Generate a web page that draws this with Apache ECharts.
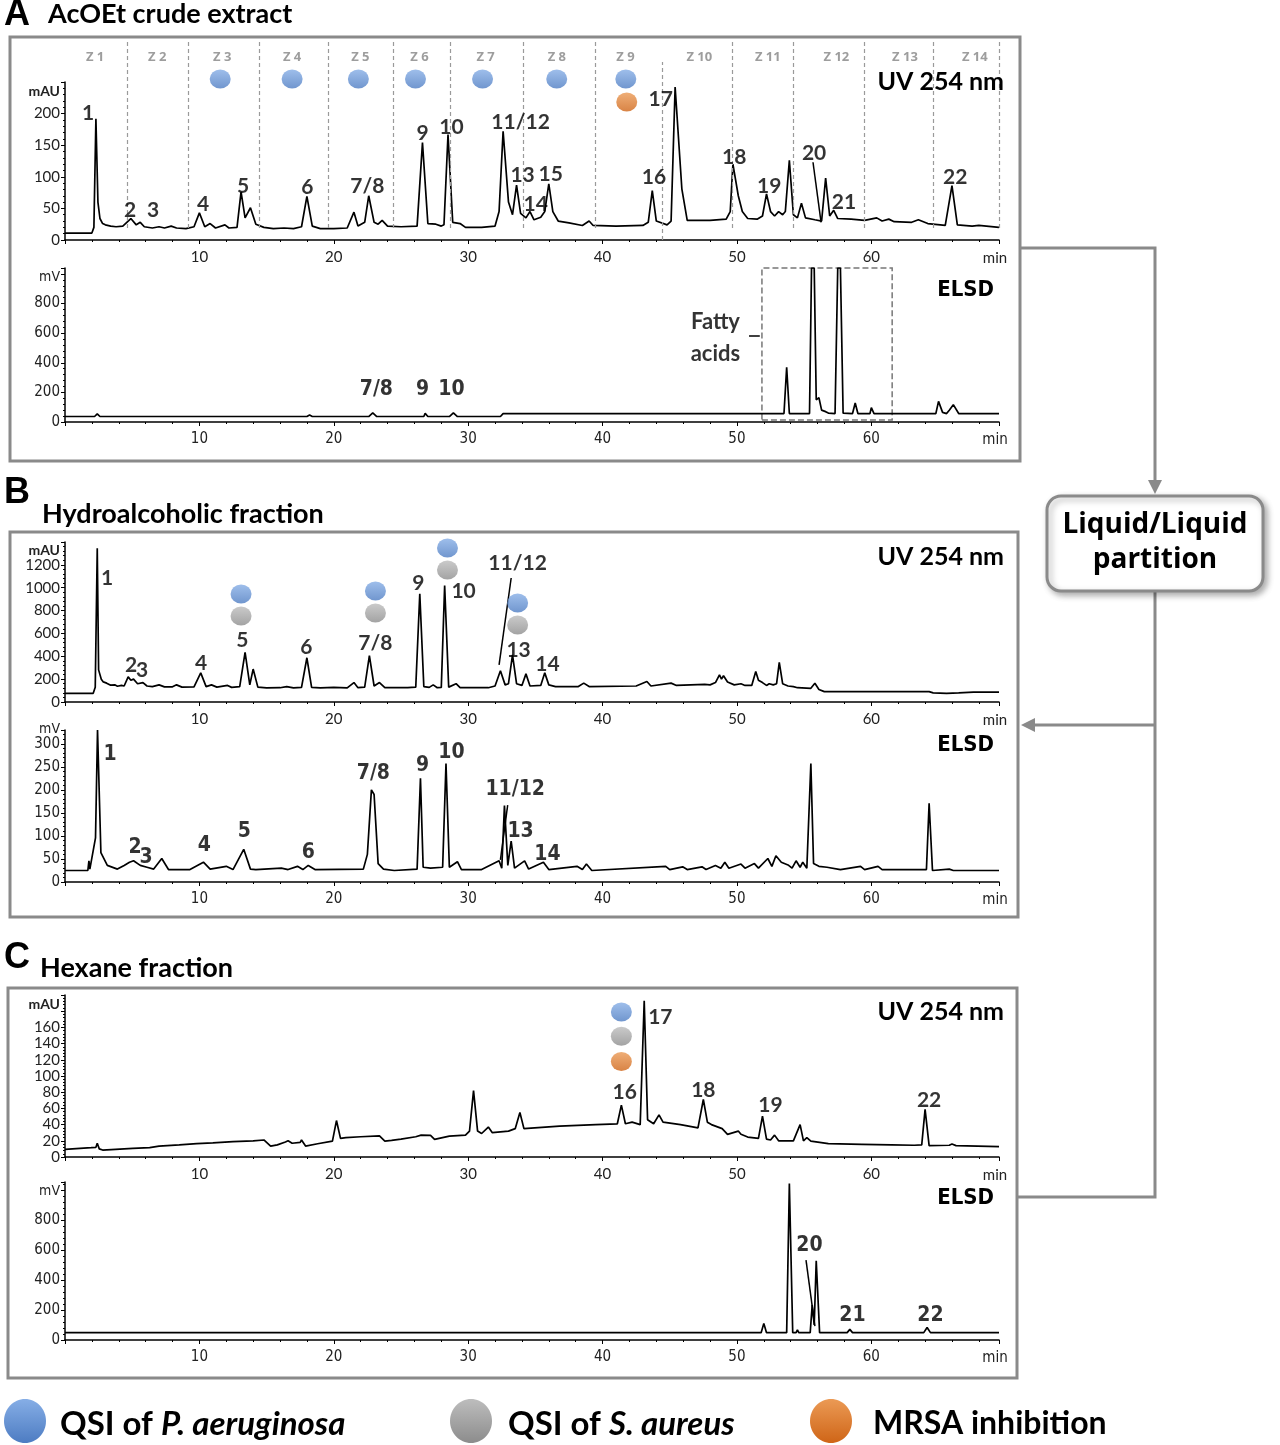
<!DOCTYPE html>
<html><head><meta charset="utf-8">
<script src="https://cdn.jsdelivr.net/npm/echarts@6/dist/echarts.min.js"></script>
<style>html,body{margin:0;padding:0;background:#fff}#c{width:1280px;height:1445px}</style>
</head><body><div id="c"></div><script>
// ---------- DATA (time in min, intensity in mAU / mV) ----------
const uvA = [[0,11],[2.0,11],[2.15,20],[2.3,192],[2.45,60],[2.6,34],[2.8,26],[3.0,24],[3.4,22],[3.8,21],[4.3,22],[4.9,34],[5.3,24],[5.6,28],[5.9,21],[6.5,19],[7.0,21],[7.4,19],[7.9,22],[8.3,19],[9.0,18],[9.6,21],[10.0,43],[10.4,21],[10.8,26],[11.2,19],[11.9,24],[12.2,19],[12.8,20],[13.1,76],[13.4,35],[13.8,51],[14.2,25],[14.8,20],[15.5,18],[16.3,19],[17.0,18],[17.6,21],[18.0,69],[18.4,22],[19.0,18],[20.0,18],[21.0,19],[21.5,44],[21.8,22],[22.3,28],[22.6,70],[23.0,28],[23.3,25],[23.6,31],[24.0,22],[25.0,21],[26.2,22],[26.6,154],[27.0,26],[27.6,25],[28.0,22],[28.2,24],[28.5,167],[28.85,28],[29.4,26],[29.8,20],[31.0,20],[32.0,22],[32.3,45],[32.6,172],[33.0,60],[33.3,40],[33.6,87],[33.9,42],[34.3,35],[34.6,45],[34.9,32],[35.4,36],[35.7,45],[36.0,89],[36.3,45],[36.7,30],[37.5,27],[38.5,23],[39.0,30],[39.3,23],[41.0,22],[43.0,23],[43.4,28],[43.7,78],[44.0,30],[44.8,24],[45.1,30],[45.4,242],[45.9,81],[46.3,31],[47.0,31],[48.0,31],[49.2,33],[49.5,45],[49.7,120],[50.1,70],[50.4,45],[50.8,34],[51.5,33],[51.9,38],[52.2,73],[52.5,45],[52.8,38],[53.1,45],[53.4,40],[53.6,45],[53.9,126],[54.2,40],[54.5,35],[54.8,58],[55.1,35],[55.8,32],[56.3,30],[56.6,98],[56.9,38],[57.2,47],[57.5,34],[58.5,33],[59.5,31],[60.4,35],[60.8,30],[61.3,33],[61.7,29],[63.0,28],[63.5,32],[64.2,26],[65.5,23],[66.0,86],[66.4,24],[67.5,22],[68.0,23],[69.5,20]];
const elsdA = [[0,37],[2.2,37],[2.4,55],[2.6,37],[2.9,37],[3.0,50],[3.2,37],[4.9,37],[5.0,47],[5.2,37],[7.1,37],[7.2,47],[7.4,37],[10.1,37],[10.2,47],[10.4,37],[13.3,37],[13.4,47],[13.6,37],[15.4,37],[15.5,43],[15.6,37],[18.0,37],[18.2,47],[18.4,37],[22.6,37],[22.9,62],[23.2,37],[23.8,37],[23.9,45],[24.0,37],[26.7,37],[26.8,58],[27.0,37],[28.6,37],[28.9,62],[29.2,37],[29.8,37],[29.9,45],[30.0,37],[32.4,37],[32.6,57],[37.2,57],[37.3,48],[37.4,57],[40.1,57],[40.2,48],[40.4,57],[49.7,57],[49.8,70],[49.9,57],[53.5,57],[53.7,370],[53.9,57],[54.8,57],[54.9,70],[55.0,57],[55.4,57],[55.55,1040],[55.75,1040],[55.9,150],[56.1,165],[56.3,80],[56.6,70],[56.8,60],[57.3,57],[57.5,1040],[57.7,1040],[57.9,60],[58.6,57],[58.8,128],[59.0,57],[59.9,57],[60.0,97],[60.2,57],[64.8,57],[65.0,139],[65.3,65],[65.6,57],[65.8,80],[66.1,117],[66.5,57],[69.5,57]];
const uvB = [[0,76],[2.1,76],[2.25,130],[2.4,1345],[2.5,281],[2.7,200],[2.85,176],[3.1,165],[3.4,147],[3.7,150],[3.9,138],[4.2,145],[4.4,140],[4.7,220],[4.9,190],[5.1,200],[5.4,160],[5.8,170],[6.1,140],[6.5,135],[7.0,150],[7.4,132],[8.0,133],[8.3,150],[8.7,130],[9.6,132],[10.1,255],[10.5,135],[10.9,150],[11.3,130],[12.1,145],[12.4,128],[13.0,135],[13.4,434],[13.75,150],[14.0,288],[14.35,130],[15.0,123],[16.0,125],[16.5,135],[17.0,123],[17.6,128],[18.0,387],[18.35,128],[19.0,123],[20.0,128],[21.0,123],[21.5,170],[21.8,125],[22.3,130],[22.65,405],[23.0,140],[23.4,170],[23.8,125],[25.5,125],[26.1,130],[26.4,947],[26.7,135],[27.1,128],[27.4,150],[27.7,125],[28.0,128],[28.25,1020],[28.55,130],[29.1,160],[29.4,125],[31.5,125],[32.0,140],[32.4,273],[32.75,150],[33.0,160],[33.3,413],[33.6,160],[34.0,145],[34.3,246],[34.6,140],[35.4,145],[35.7,255],[36.0,150],[36.5,135],[38.2,135],[38.6,165],[39.0,135],[42.5,140],[43.3,179],[43.6,140],[45.1,165],[45.5,145],[47.6,155],[48.0,150],[48.4,170],[48.7,237],[48.85,200],[49.0,230],[49.3,175],[49.8,150],[50.3,160],[50.6,145],[51.1,145],[51.4,267],[51.6,190],[51.9,170],[52.2,145],[52.4,160],[52.7,150],[52.95,160],[53.15,346],[53.4,160],[53.8,140],[54.2,135],[54.5,125],[55.5,120],[55.8,164],[56.1,110],[56.5,91],[64.3,91],[64.6,80],[65.6,76],[66.5,80],[67.6,87],[69.5,87]];
const elsdB = [[0,25],[1.7,25],[1.78,46],[1.85,28],[2.27,96],[2.42,330],[2.67,64],[3.15,36],[3.9,28],[4.4,36],[4.8,43],[5.1,46],[5.6,36],[6.1,32],[6.6,28],[7.2,51],[7.7,27],[9.3,27],[10.3,43],[10.8,28],[12.0,34],[12.5,27],[13.3,71],[13.8,28],[14.2,27],[16.1,30],[16.6,27],[17.3,34],[17.7,27],[18.1,36],[18.6,27],[22.2,28],[22.5,60],[22.8,200],[23.0,190],[23.3,40],[23.7,28],[24.5,25],[26.2,28],[26.45,225],[26.65,32],[27.2,30],[28.1,32],[28.35,257],[28.6,32],[29.2,44],[29.5,27],[31.0,27],[32.3,46],[32.5,30],[32.7,166],[32.95,36],[33.2,89],[33.45,30],[34.2,46],[34.5,28],[35.6,43],[36.0,27],[38.1,34],[38.5,27],[38.8,39],[39.2,25],[44.7,34],[45.0,27],[45.96,33],[46.3,27],[47.4,33],[47.7,27],[48.4,36],[48.8,30],[49.1,43],[49.4,30],[50.3,39],[50.6,30],[51.3,40],[51.6,30],[52.3,51],[52.6,34],[52.9,57],[53.3,43],[53.8,37],[54.1,30],[54.4,46],[54.7,32],[54.9,43],[55.2,30],[55.5,257],[55.7,40],[56.1,34],[56.7,32],[57.7,27],[59.2,34],[59.5,27],[60.5,34],[60.8,27],[64.1,27],[64.3,171],[64.55,25],[65.8,28],[66.1,25],[69.5,25]];
const uvC = [[0,9.4],[1.95,11.5],[2.3,12],[2.4,17],[2.55,10],[2.8,8.6],[5.05,10.7],[6.3,11.5],[7.0,13.5],[8.5,15],[9.8,16.4],[11.0,17.5],[12.5,19],[14.0,20],[14.8,21],[14.9,23],[15.3,13.5],[15.8,15],[16.4,18.5],[16.6,20],[16.9,17],[17.5,18],[17.6,21],[17.9,13.5],[18.8,16.4],[19.9,19.7],[20.2,45],[20.5,23],[20.9,24],[22.0,25],[23.4,26],[23.8,19.7],[24.3,20.5],[25.0,22],[26.1,25],[26.5,27],[27.2,26.6],[27.5,21.7],[28.6,25.8],[29.8,27],[30.1,32],[30.4,82],[30.7,32],[31.0,29],[31.5,37],[31.8,30],[33.0,32],[33.5,35],[33.85,55],[34.15,35],[36.8,38],[39.5,40],[41.1,41],[41.4,64],[41.7,41],[42.2,43],[42.8,40],[43.1,193],[43.35,46],[43.8,41],[44.2,52],[44.5,43],[45.8,40],[47.1,36],[47.5,71],[47.8,43],[48.1,40],[48.9,35],[49.3,28],[50.1,32],[50.3,28],[50.8,24.6],[51.6,23],[51.9,50.5],[52.2,22],[52.5,21],[52.8,27],[53.1,20],[54.2,20],[54.7,40],[54.95,20],[55.2,23.8],[55.5,19.5],[56.8,16.4],[59.3,15.6],[61.5,15],[63.2,14.5],[63.75,15],[64.0,58.7],[64.3,14],[65.8,14.5],[66.0,16],[66.3,14],[69.5,12.7]];
const elsdC = [[0,49],[51.8,49],[52.0,111],[52.2,49],[53.7,49],[53.9,1045],[54.15,49],[54.4,49],[54.5,67],[54.6,49],[55.45,49],[55.6,233],[55.75,100],[55.9,529],[56.15,49],[58.2,49],[58.4,71],[58.6,49],[63.9,49],[64.15,84],[64.4,49],[69.5,49]];

// peak labels [time, intensity, text]
const labUvA = [[1.71,201,'1'],[4.84,47,'2'],[6.56,47,'3'],[10.28,57,'4'],[13.26,85,'5'],[18.03,84,'6'],[22.5,85,'7/8'],[26.6,169,'9'],[28.76,179,'10'],[33.9,187,'11/12'],[34.05,103,'13'],[35.02,57,'14'],[36.14,104,'15'],[43.82,100,'16'],[44.33,223,'17'],[49.8,131,'18'],[52.4,85,'19'],[55.74,138,'20'],[57.97,60,'21'],[66.24,100,'22']];
const labElsdA = [[23.17,216,'7/8'],[26.6,216,'9'],[28.76,216,'10']];
const labFatty = [[48.4,568,'Fatty\nacids']];
const labUvB = [[3.13,1085,'1'],[4.92,324,'2'],[5.74,280,'3'],[10.13,341,'4'],[13.19,542,'5'],[17.96,481,'6'],[23.1,516,'7/8'],[26.3,1041,'9'],[29.66,971,'10'],[33.68,1216,'11/12'],[33.75,455,'13'],[35.9,332,'14']];
const labElsdB = [[3.35,276,'1'],[5.22,74,'2'],[6.04,54,'3'],[10.36,80,'4'],[13.34,109,'5'],[18.1,63,'6'],[22.95,235,'7/8'],[26.6,252,'9'],[28.76,282,'10'],[33.5,200,'11/12'],[33.9,109,'13'],[35.9,59,'14']];
const labUvC = [[41.65,80,'16'],[44.3,172,'17'],[47.5,83,'18'],[52.5,64,'19'],[64.3,70,'22']];
const labElsdC = [[55.4,628,'20'],[58.6,160,'21'],[64.4,160,'22']];

// leader lines [t1, v1, t2, v2]
const leadUvA = [[55.66,123,56.26,28]];
const leadElsdA = [[50.9,581,51.7,581]];
const leadUvB = [[33.2,1085,32.3,324]];
const leadElsdB = [[32.94,167,32.4,48]];
const leadElsdC = [[55.14,534,55.8,93]];

// fatty acids box [t1, v1, t2, v2]
const fattyBox = [51.86,13,61.55,1040];

// fractionation zones of the crude extract (zone grid: 0..100 vertical scale)
const zoneLines = [[4.62,6,100],[9.17,6,100],[14.46,6,100],[19.6,6,100],[24.44,6,100],[28.69,6,100],[34.13,6,100],[39.49,6,100],[44.41,0,89],[49.63,6,100],[54.17,6,100],[59.46,6,100],[64.6,6,100],[69.5,6,100]];
const zoneNames = ['Z 1','Z 2','Z 3','Z 4','Z 5','Z 6','Z 7','Z 8','Z 9','Z 10','Z 11','Z 12','Z 13','Z 14'];
const zoneNameTimes = [2.24,6.86,11.7,16.9,21.98,26.38,31.3,36.6,41.7,47.2,52.3,57.4,62.5,67.7];
const zoneBlue = [[11.55,80.5],[16.9,80.5],[21.83,80.5],[26.08,80.5],[31.07,80.5],[36.59,80.5],[41.73,80.5]];
const zoneOrange = [[41.8,69]];

// activity dots
const dotBlueB = [[13.1,945],[23.1,971],[28.46,1347],[33.68,866]];
const dotGrayB = [[13.1,752],[23.1,779],[28.46,1155],[33.68,674]];
const dotBlueC = [[41.4,179]];
const dotGrayC = [[41.4,149]];
const dotOrangeC = [[41.4,118]];

// ---------- CHART ----------
const UVF = 'Lato, "Open Sans", sans-serif';
const ELF = '"DejaVu Sans Condensed", "Liberation Sans Narrow", "Liberation Sans", sans-serif';
const grids = [
  {left:65, top:82, width:934, height:158},
  {left:65, top:268, width:934, height:154},
  {left:65, top:542, width:934, height:160},
  {left:65, top:730, width:934, height:152},
  {left:65, top:995, width:934, height:162},
  {left:65, top:1182, width:934, height:158},
  {left:65, top:40, width:934, height:200}
];
function xAx(gi, font){
  return {gridIndex:gi, type:'value', min:0, max:69.5, interval:10,
    name:'min', nameLocation:'end', nameGap:-4,
    nameTextStyle:{align:'center', verticalAlign:'top', padding:[11,0,0,0], fontFamily:font, fontSize:15, color:'#222'},
    axisLine:{onZero:false, lineStyle:{color:'#000', width:1.5}},
    axisTick:{show:true, length:4, lineStyle:{color:'#000'}},
    minorTick:{show:true, splitNumber:5, length:2, lineStyle:{color:'#000'}},
    splitLine:{show:false},
    axisLabel:{showMaxLabel:false, showMinLabel:false, fontFamily:font, fontSize:15, color:'#222', margin:10,
      formatter: v => (v>0 && v%10===0) ? String(v) : ''}};
}
function yAx(gi, max, interval, lastShown, unit, font){
  return {gridIndex:gi, type:'value', min:0, max, interval,
    name:unit, nameLocation:'end', nameGap:0,
    nameTextStyle:{align:'right', verticalAlign:'top', padding:[2,5,0,0], fontFamily:font, fontSize:14, fontWeight: font===UVF?'bold':'normal', color:'#222'},
    axisLine:{show:true, onZero:false, lineStyle:{color:'#000', width:1.5}},
    axisTick:{show:true, length:4, lineStyle:{color:'#000'}},
    minorTick:{show:true, splitNumber:5, length:2, lineStyle:{color:'#000'}},
    splitLine:{show:false},
    axisLabel:{showMaxLabel:true, fontFamily:font, fontSize:15, color:'#222', margin:5,
      formatter: v => v <= lastShown + 1e-9 ? String(v) : ''}};
}
function trace(gi, data){
  return {type:'line', xAxisIndex:gi, yAxisIndex:gi, data, symbol:'none', showSymbol:false,
    lineStyle:{color:'#000', width:1.7}, animation:false, z:3, silent:true};
}
function labels(gi, data, font, size, leaders, extra){
  const s = {type:'scatter', xAxisIndex:gi, yAxisIndex:gi, data, symbolSize:1,
    itemStyle:{color:'rgba(0,0,0,0)'}, silent:true, animation:false, z:6,
    label:Object.assign({show:true, position:'inside', formatter:p=>p.data[2], fontFamily:font,
      fontWeight:'bold', fontSize:size, color:'#000'}, extra||{})};
  if (leaders && leaders.length){
    s.markLine = {silent:true, symbol:['none','none'], animation:false, label:{show:false},
      lineStyle:{color:'#000', width:1.5, type:'solid'},
      data: leaders.map(l => [{coord:[l[0],l[1]]},{coord:[l[2],l[3]]}])};
  }
  return s;
}
function grad(c1, c2){
  return {type:'linear', x:0, y:0, x2:0, y2:1, colorStops:[{offset:0,color:c1},{offset:1,color:c2}]};
}
const BLUE = grad('#86aee6','#4d7cc2'), GRAY = grad('#bdbdbd','#8c8c8c'), ORANGE = grad('#eb9a55','#cf6517');
function dots(gi, data, color){
  return {type:'scatter', xAxisIndex:gi, yAxisIndex:gi, data, symbol:'circle', symbolSize:[21,19],
    itemStyle:{color}, silent:true, animation:false, z:5};
}

const xAxes = [xAx(0,UVF), xAx(1,ELF), xAx(2,UVF), xAx(3,ELF), xAx(4,UVF), xAx(5,ELF),
  {gridIndex:6, type:'value', min:0, max:69.5, show:false}];
const yAxes = [yAx(0,250,50,200,'mAU',UVF), yAx(1,1040,200,800,'mV',ELF), yAx(2,1400,200,1200,'mAU',UVF),
  yAx(3,330,50,300,'mV',ELF), yAx(4,200,20,160,'mAU',UVF), yAx(5,1055,200,800,'mV',ELF),
  {gridIndex:6, type:'value', min:0, max:100, show:false}];

const elsdASeries = trace(1, elsdA);
elsdASeries.markArea = {silent:true, animation:false,
  itemStyle:{color:'rgba(0,0,0,0)', borderColor:'#777', borderWidth:1.5, borderType:'dashed'},
  data:[[{coord:[fattyBox[0],fattyBox[1]]},{coord:[fattyBox[2],fattyBox[3]]}]]};

const zoneSeries = {type:'scatter', xAxisIndex:6, yAxisIndex:6, silent:true, animation:false, z:2,
  data: zoneNames.map((n,i)=>[zoneNameTimes[i], 91.5, n]), symbolSize:1, itemStyle:{color:'rgba(0,0,0,0)'},
  label:{show:true, position:'inside', formatter:p=>p.data[2], fontFamily:'"Open Sans", sans-serif', fontWeight:'bold', fontSize:13, color:'#858585'},
  markLine:{silent:true, symbol:['none','none'], animation:false, label:{show:false},
    lineStyle:{color:'#9a9a9a', width:1.2, type:[4,3]},
    data: zoneLines.map(z => [{coord:[z[0],z[1]]},{coord:[z[0],z[2]]}])}};

const series = [
  zoneSeries,
  dots(6, zoneBlue, BLUE), dots(6, zoneOrange, ORANGE),
  trace(0, uvA), labels(0, labUvA, UVF, 21, leadUvA),
  elsdASeries, labels(1, labElsdA, ELF, 21, []),
  labels(1, labFatty, UVF, 22, leadElsdA, {lineHeight:32}),
  trace(2, uvB), labels(2, labUvB, UVF, 21, leadUvB),
  dots(2, dotBlueB, BLUE), dots(2, dotGrayB, GRAY),
  trace(3, elsdB), labels(3, labElsdB, ELF, 21, leadElsdB),
  trace(4, uvC), labels(4, labUvC, UVF, 21, []),
  dots(4, dotBlueC, BLUE), dots(4, dotGrayC, GRAY), dots(4, dotOrangeC, ORANGE),
  trace(5, elsdC), labels(5, labElsdC, ELF, 21, leadElsdC)
];

const GB = '#8a8a8a';
function txt(x, y, text, fam, size, weight, align, extra){
  return {type:'text', x, y, style:Object.assign({text, font: (weight||'bold')+' '+size+'px '+fam, fill:'#000',
    align: align||'left', verticalAlign:'middle'}, extra||{}), z:10, silent:true};
}
function box(x, y, w, h){
  return {type:'rect', shape:{x, y, width:w, height:h}, style:{fill:null, stroke:GB, lineWidth:3}, z:1, silent:true};
}
const LS = '"Liberation Sans", Arial, sans-serif';
const OS = '"Open Sans", sans-serif';
const graphic = [
  box(10,37,1010,424), box(10,532,1008,385), box(8,988,1009,390),
  txt(4,15,'A',LS,36,'bold'), txt(48,14,'AcOEt crude extract',UVF,27,'bold'),
  txt(4,493,'B',LS,36,'bold'), txt(42,514,'Hydroalcoholic fraction',UVF,27,'bold'),
  txt(4,958,'C',LS,36,'bold'), txt(40,968,'Hexane fraction',UVF,27,'bold'),
  txt(1004,82,'UV 254 nm',UVF,25,'bold','right'), txt(994,290,'ELSD',ELF,22,'bold','right'),
  txt(1004,557,'UV 254 nm',UVF,25,'bold','right'), txt(994,745,'ELSD',ELF,22,'bold','right'),
  txt(1004,1012,'UV 254 nm',UVF,25,'bold','right'), txt(994,1198,'ELSD',ELF,22,'bold','right'),
  // flow
  {type:'polyline', shape:{points:[[1021,248],[1155,248],[1155,482]]}, style:{stroke:GB, lineWidth:3, fill:null}, silent:true},
  {type:'polygon', shape:{points:[[1148,480],[1162,480],[1155,494]]}, style:{fill:GB}, silent:true},
  {type:'polyline', shape:{points:[[1155,592],[1155,1197],[1018,1197]]}, style:{stroke:GB, lineWidth:3, fill:null}, silent:true},
  {type:'polyline', shape:{points:[[1155,725],[1034,725]]}, style:{stroke:GB, lineWidth:3, fill:null}, silent:true},
  {type:'polygon', shape:{points:[[1021,725],[1035,718],[1035,732]]}, style:{fill:GB}, silent:true},
  {type:'rect', shape:{x:1047, y:496, width:216, height:95, r:14},
    style:{fill:'#fff', stroke:GB, lineWidth:3, shadowBlur:6, shadowOffsetX:3, shadowOffsetY:3, shadowColor:'rgba(0,0,0,0.3)'}, z:2, silent:true},
  txt(1155,525,'Liquid/Liquid',OS,28,'bold','center'),
  txt(1155,560,'partition',OS,28,'bold','center'),
  // legend
  {type:'ellipse', shape:{cx:25, cy:1421, rx:21, ry:22}, style:{fill:BLUE}, silent:true},
  {type:'text', x:60, y:1424, silent:true, style:{text:'{n|QSI of }{i|P. aeruginosa}', verticalAlign:'middle',
    rich:{n:{font:'bold 33px Lato', fill:'#000'}, i:{font:'italic bold 33px Lato', fill:'#000'}}}},
  {type:'ellipse', shape:{cx:471, cy:1421, rx:21, ry:22}, style:{fill:GRAY}, silent:true},
  {type:'text', x:508, y:1424, silent:true, style:{text:'{n|QSI of }{i|S. aureus}', verticalAlign:'middle',
    rich:{n:{font:'bold 33px Lato', fill:'#000'}, i:{font:'italic bold 33px Lato', fill:'#000'}}}},
  {type:'ellipse', shape:{cx:831, cy:1421, rx:21, ry:22}, style:{fill:ORANGE}, silent:true},
  txt(873,1424,'MRSA inhibition',UVF,32,'bold')
];

const chart = echarts.init(document.getElementById('c'), null, {renderer:'canvas'});
chart.setOption({animation:false, backgroundColor:'#fff', grid:grids, xAxis:xAxes, yAxis:yAxes, series, graphic});
</script></body></html>
